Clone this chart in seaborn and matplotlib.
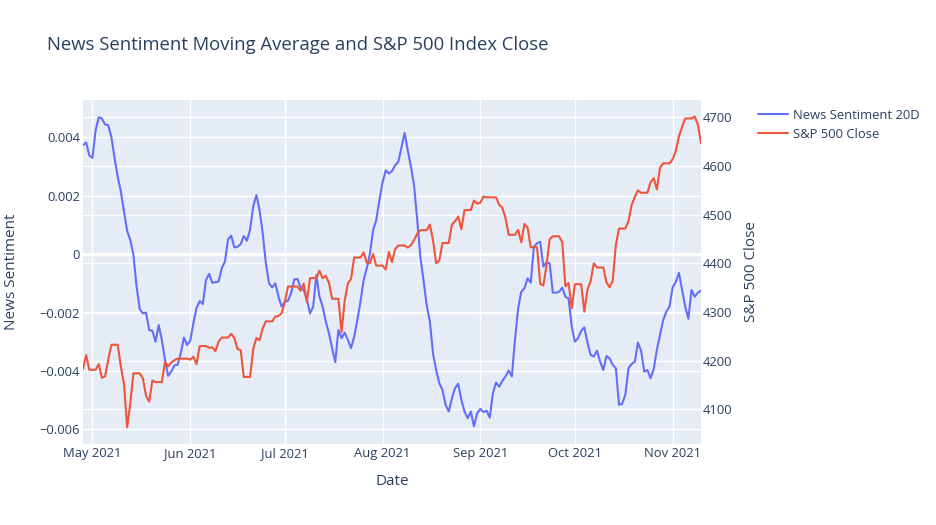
import numpy as np
import pandas as pd
import matplotlib
matplotlib.use("Agg")
import matplotlib.pyplot as plt
import matplotlib.dates as mdates
import matplotlib.ticker as mticker
import matplotlib.transforms as mtransforms
from matplotlib.lines import Line2D
import seaborn as sns

datas = pd.date_range("2021-04-28", "2021-11-10", freq="D")

# media movel 20 dias do sentimento, em unidades de 1e-3 (uma linha por semana, seg-dom)
sentimento_20d_milesimos = [
    3.73, 3.82, 3.38, 3.29, 4.24,
    4.69, 4.64, 4.44, 4.41, 4.01, 3.30, 2.65,
    2.15, 1.45, 0.80, 0.48, -0.03, -1.12, -1.88,
    -2.03, -2.00, -2.60, -2.63, -3.00, -2.43, -2.94,
    -3.62, -4.17, -4.02, -3.81, -3.79, -3.40, -2.86,
    -3.11, -2.97, -2.37, -1.85, -1.61, -1.71, -0.89,
    -0.68, -0.98, -0.96, -0.94, -0.49, -0.26, 0.50,
    0.63, 0.23, 0.25, 0.34, 0.62, 0.46, 0.85,
    1.64, 2.02, 1.50, 0.71, -0.32, -1.00, -1.14,
    -1.00, -1.46, -1.80, -1.63, -1.60, -1.34, -0.87,
    -0.85, -1.14, -1.23, -1.55, -2.03, -1.80, -0.72,
    -1.46, -1.80, -2.31, -2.71, -3.22, -3.70, -2.60,
    -2.88, -2.69, -2.94, -3.22, -2.83, -2.26, -1.63,
    -0.89, -0.49, 0.02, 0.82, 1.16, 1.85, 2.45,
    2.87, 2.76, 2.84, 3.04, 3.16, 3.65, 4.15,
    3.55, 3.00, 2.35, 1.16, -0.10, -0.90, -1.75,
    -2.30, -3.40, -3.97, -4.42, -4.65, -5.16, -5.39,
    -4.93, -4.59, -4.44, -4.99, -5.39, -5.62, -5.39,
    -5.90, -5.45, -5.30, -5.41, -5.36, -5.60, -4.76,
    -4.40, -4.54, -4.34, -4.19, -3.99, -4.19, -2.94,
    -1.86, -1.29, -1.17, -0.83, -0.98, 0.25, 0.37,
    0.42, -0.43, -0.28, -0.32, -1.32, -1.32, -1.29,
    -1.15, -1.46, -1.52, -2.48, -3.00, -2.88, -2.63,
    -2.51, -3.03, -3.45, -3.51, -3.31, -3.68, -3.97,
    -3.49, -3.57, -3.79, -3.91, -5.16, -5.13, -4.82,
    -3.91, -3.76, -3.69, -3.03, -3.31, -4.02, -3.97,
    -4.25, -3.94, -3.28, -2.77, -2.26, -1.97, -1.80,
    -1.14, -0.95, -0.64, -1.23, -1.80, -2.22, -1.23,
    -1.46, -1.32, -1.25,
]

# fechamento do S&P 500 (fim de semana / feriado repete o ultimo fechamento)
sp500_close = [
    4183.18, 4211.47, 4181.17, 4181.17, 4181.17,
    4192.66, 4164.66, 4167.59, 4201.62, 4232.60, 4232.60, 4232.60,
    4188.43, 4152.10, 4063.04, 4112.50, 4173.85, 4173.85, 4173.85,
    4163.29, 4127.83, 4115.68, 4159.12, 4155.86, 4155.86, 4155.86,
    4197.05, 4188.13, 4195.99, 4200.88, 4204.11, 4204.11, 4204.11,
    4204.11, 4202.04, 4208.12, 4192.85, 4229.89, 4229.89, 4229.89,
    4226.52, 4227.26, 4219.55, 4239.18, 4247.44, 4247.44, 4247.44,
    4255.15, 4246.59, 4223.70, 4221.86, 4166.45, 4166.45, 4166.45,
    4224.79, 4246.44, 4241.84, 4266.49, 4280.70, 4280.70, 4280.70,
    4290.61, 4291.80, 4297.50, 4319.94, 4352.34, 4352.34, 4352.34,
    4352.34, 4343.54, 4358.13, 4320.82, 4369.55, 4369.55, 4369.55,
    4384.63, 4369.21, 4374.30, 4360.03, 4327.16, 4327.16, 4327.16,
    4258.49, 4323.06, 4358.69, 4367.48, 4411.79, 4411.79, 4411.79,
    4422.30, 4401.46, 4400.64, 4419.15, 4395.26, 4395.26, 4395.26,
    4387.16, 4423.15, 4402.66, 4429.10, 4436.52, 4436.52, 4436.52,
    4432.35, 4436.75, 4447.70, 4460.83, 4468.00, 4468.00, 4468.00,
    4479.71, 4448.08, 4400.27, 4405.80, 4441.67, 4441.67, 4441.67,
    4479.53, 4486.23, 4496.19, 4470.00, 4509.37, 4509.37, 4509.37,
    4528.79, 4522.68, 4524.09, 4536.95, 4535.43, 4535.43, 4535.43,
    4535.43, 4520.03, 4514.07, 4493.28, 4458.58, 4458.58, 4458.58,
    4468.73, 4443.05, 4480.70, 4473.75, 4432.99, 4432.99, 4432.99,
    4357.73, 4354.19, 4395.64, 4448.98, 4455.48, 4455.48, 4455.48,
    4443.11, 4352.63, 4359.46, 4307.54, 4357.04, 4357.04, 4357.04,
    4300.46, 4345.72, 4363.55, 4399.76, 4391.34, 4391.34, 4391.34,
    4361.19, 4350.65, 4363.80, 4438.26, 4471.37, 4471.37, 4471.37,
    4486.46, 4519.63, 4536.19, 4549.78, 4544.90, 4544.90, 4544.90,
    4566.48, 4574.79, 4551.68, 4596.42, 4605.38, 4605.38, 4605.38,
    4613.67, 4630.65, 4660.57, 4680.06, 4697.53, 4697.53, 4697.53,
    4701.70, 4685.25, 4646.71,
]

df = pd.DataFrame({
    "Date": datas,
    "News Sentiment 20D": np.array(sentimento_20d_milesimos) / 1000,
    "S&P 500 Close": sp500_close,
})

azul = "#636efa"
vermelho = "#EF553B"
texto = "#2a3f5f"
fundo = "#E5ECF6"

sns.set_style("darkgrid", {"axes.facecolor": fundo, "grid.color": "white"})
plt.rcParams["font.family"] = ["Open Sans", "DejaVu Sans"]

fs_tick = 9.4
fs_eixo = 11.0
fs_titulo = 13.35

fig = plt.figure(figsize=(9.37, 5.25), dpi=100)
ax = fig.add_axes([83 / 937, 81 / 525, 618 / 937, 344 / 525])
ax2 = ax.twinx()
ax2.patch.set_visible(False)

sns.lineplot(data=df, x="Date", y="News Sentiment 20D", ax=ax, color=azul, linewidth=1.5)
sns.lineplot(data=df, x="Date", y="S&P 500 Close", ax=ax2, color=vermelho, linewidth=1.5)

ax.set_xlim(datas[0], datas[-1])
ax.set_ylim(-0.006503, 0.005277)
ax2.set_ylim(4028.7, 4735.5)

ax.yaxis.set_major_locator(mticker.MultipleLocator(0.002))
ax.yaxis.set_major_formatter(mticker.FuncFormatter(lambda v, p: f"{v:g}".replace("-", "\u2212")))
ax2.yaxis.set_major_locator(mticker.MultipleLocator(100))
ax.xaxis.set_major_locator(mdates.MonthLocator())
ax.xaxis.set_major_formatter(mdates.DateFormatter("%b %Y"))

# grade do eixo direito desenhada no eixo de baixo, para ficar atras das linhas
ax2.grid(False)
blend = mtransforms.blended_transform_factory(ax.transAxes, ax2.transData)
for t in ax2.get_yticks():
    if 4028.7 < t < 4735.5:
        ax.add_line(Line2D([0, 1], [t, t], transform=blend, color="white", lw=1, zorder=0.6))
ax.axhline(0, color="white", lw=2, zorder=0.7)
ax.grid(True, color="white", lw=1)

for a in (ax, ax2):
    for s in a.spines.values():
        s.set_visible(False)
    a.tick_params(length=0, labelsize=fs_tick, labelcolor=texto)
ax.tick_params(axis="y", pad=2)
ax.tick_params(axis="x", pad=2)
ax2.tick_params(axis="y", pad=1)

ax.set_xlabel("Date", fontsize=fs_eixo, color=texto)
ax.xaxis.set_label_coords(0.5, -0.1076)
ax.xaxis.label.set_va("center")
ax.set_ylabel("News Sentiment", fontsize=fs_eixo, color=texto)
ax.yaxis.set_label_coords(-0.1149, 0.5)
ax.yaxis.label.set_va("center")
ax2.set_ylabel("S&P 500 Close", fontsize=fs_eixo, color=texto, rotation=90)
ax2.yaxis.set_label_coords(1.0825, 0.5)
ax2.yaxis.label.set_va("center")

fig.text(47 / 937, 1 - 45 / 525, "News Sentiment Moving Average and S&P 500 Index Close",
         fontsize=fs_titulo, color=texto, va="center", ha="left")

handles = [Line2D([], [], color=azul, lw=1.5), Line2D([], [], color=vermelho, lw=1.5)]
fig.legend(handles, ["News Sentiment 20D", "S&P 500 Close"], loc="upper left",
           bbox_to_anchor=(758 / 937, 1 - 109 / 525), frameon=False, fontsize=fs_tick,
           labelcolor=texto, handlelength=2.3, handletextpad=0.4, labelspacing=0.45,
           borderpad=0, borderaxespad=0)

fig.savefig("out.png", dpi=100, facecolor="white")
